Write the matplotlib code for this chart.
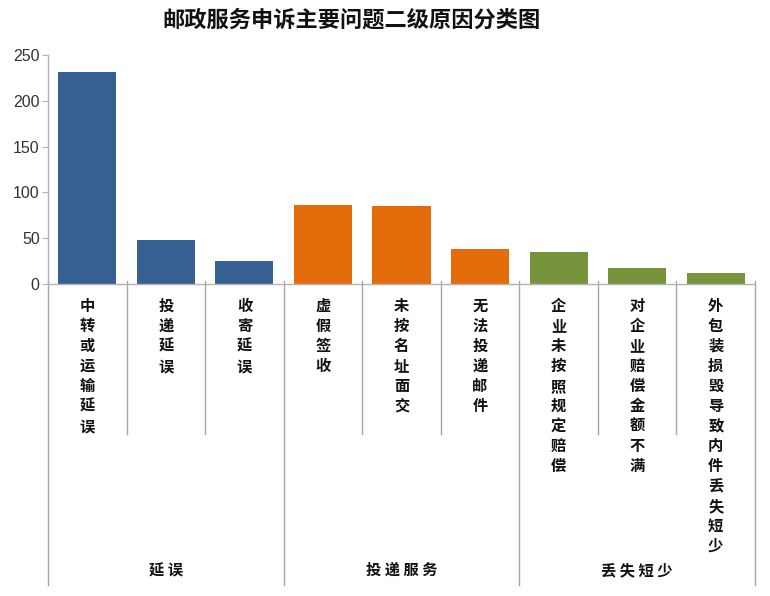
import matplotlib
matplotlib.use("Agg")
import matplotlib.pyplot as plt

plt.rcParams['font.family'] = ['Noto Sans CJK SC', 'DejaVu Sans']

title = "邮政服务申诉主要问题二级原因分类图"
categories = ["中转或运输延误", "投递延误", "收寄延误",
              "虚假签收", "未按名址面交", "无法投递邮件",
              "企业未按照规定赔偿", "对企业赔偿金额不满", "外包装损毁导致内件丢失短少"]
values = [231, 48, 25, 86, 85, 38, 35, 18, 12]
groups = ["延误", "投递服务", "丢失短少"]
group_sizes = [3, 3, 3]
group_colors = ["#376092", "#E46C0A", "#77933C"]
yticks = [0, 50, 100, 150, 200, 250]

W, H = 770, 596
fig = plt.figure(figsize=(W / 100, H / 100), dpi=100)
ax_l, ax_r, ax_t, ax_b = 48, 755, 55, 284
ax = fig.add_axes([ax_l / W, 1 - ax_b / H, (ax_r - ax_l) / W, (ax_b - ax_t) / H])
ax_h = ax_b - ax_t

colors = []
for g, n in enumerate(group_sizes):
    colors += [group_colors[g]] * n

x = list(range(len(categories)))
ax.bar(x, values, width=0.74, color=colors, zorder=2)
ax.set_xlim(-0.5, len(categories) - 0.5)
ax.set_ylim(0, 250)
ax.set_yticks(yticks)
ax.set_yticklabels([str(v) for v in yticks], family=['Liberation Sans', 'DejaVu Sans'],
                   fontsize=11.5, color='#333333')
ax.tick_params(axis='y', direction='out', length=4, color='#b3b3b3', pad=2)
ax.set_xticks([])
for s in ['top', 'right']:
    ax.spines[s].set_visible(False)
for s in ['left', 'bottom']:
    ax.spines[s].set_color('#b3b3b3')
    ax.spines[s].set_linewidth(1.0)

trans = ax.get_xaxis_transform()
group_edges = [0]
start = 0
for n in group_sizes:
    start += n
    group_edges.append(start)
for b in range(len(categories) + 1):
    if b in group_edges:
        y_end = -(585 - ax_b) / ax_h
    else:
        y_end = -(434 - ax_b) / ax_h
    ax.plot([b - 0.5, b - 0.5], [3 / ax_h, y_end], transform=trans, color='#a6a6a6',
            lw=1.0, clip_on=False, zorder=1)

# vertical category labels
for i, cat in enumerate(categories):
    for j, ch in enumerate(cat):
        ax.annotate(ch, xy=(i, 0), xycoords=trans, xytext=(0, -(22 + 20 * j)),
                    textcoords='offset pixels', ha='center', va='center',
                    fontsize=11, fontweight='bold', color='#111111')

# group labels
for g, name in enumerate(groups):
    cx = (group_edges[g] + group_edges[g + 1] - 1) / 2
    ax.annotate(" ".join(name), xy=(cx, 0), xycoords=trans, xytext=(0, -(570 - ax_b)),
                textcoords='offset pixels', ha='center', va='center',
                fontsize=11, fontweight='bold', color='#111111')

fig.text(352 / W, 1 - 20 / H, title, ha='center', va='center', fontsize=16,
         fontweight='bold', color='#111111')

fig.savefig("out.png", dpi=100, facecolor='white')
